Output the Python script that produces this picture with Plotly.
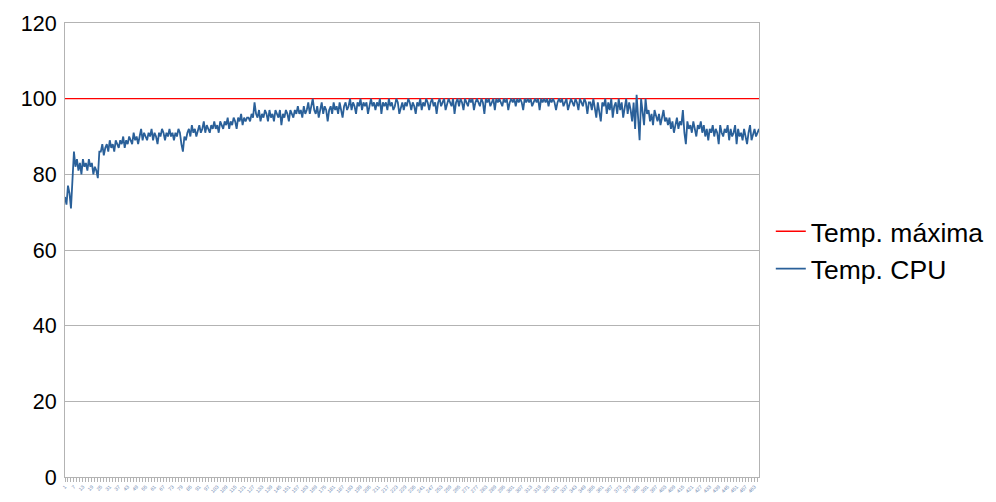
import plotly.graph_objects as go

cpu_temp = [
    74, 72, 77, 75, 71, 80, 86,
    82, 84, 81, 83, 80, 84, 82, 83, 81, 84, 82, 83, 80, 82, 81,
    79, 86,
    86, 88, 85, 87, 88, 86, 89, 87, 88, 86, 89, 88, 87, 89, 88, 90, 87, 89, 88, 90,
    89, 88, 91, 89, 90, 88, 90, 92, 89, 91, 90, 89, 91, 90, 92, 89, 91, 90, 88, 91,
    90, 92, 91, 89, 91, 90, 92, 90, 91, 89, 91, 90, 92, 91,
    88, 86, 90, 89,
    91, 92, 90, 93, 91, 92, 90, 92, 93, 91, 92, 94, 91, 93, 92, 91, 93, 92, 94, 92,
    93, 91, 94, 93, 92, 94, 93, 95, 92, 94, 93, 95, 94, 92, 95, 94, 96, 93, 95, 94,
    95, 95, 94, 96, 95, 99, 96, 95, 97, 94, 96, 95, 97, 96, 94, 97, 95, 96, 94, 97,
    96, 95, 97, 93, 96, 95, 97, 96, 94, 97, 96, 95, 97, 96, 98, 96,
    97, 95, 98, 96, 97, 99, 96, 98, 100, 97, 96, 98, 95, 97, 99, 96, 98, 97, 94, 97,
    98, 96, 99, 97, 98, 96, 99, 97, 95, 98, 99, 97, 98, 100, 97, 99, 98, 96, 99, 98,
    100, 97, 99, 98, 99, 96, 98, 100, 98, 99, 97, 99, 98, 100, 96, 99, 98, 99, 97, 100,
    98, 99, 97, 98, 100, 99, 96, 98, 99, 97, 99, 98, 100, 99,
    97, 99, 98, 96, 99, 98, 100, 97, 99, 98, 100, 99, 97, 99, 100, 98, 99, 96, 99, 100,
    98, 99, 100, 97, 99, 100, 99, 98, 100, 96, 99, 100, 98, 100, 99, 97, 100, 99, 98, 100,
    99, 100, 97, 99, 100, 99, 98, 100, 99, 96, 100, 99, 100, 98, 99, 100, 97, 100, 99, 100,
    99, 98, 100, 99, 100, 97, 99, 100, 99, 100, 98, 100, 99, 100, 99, 97, 100, 99, 100, 99,
    100, 98, 99, 100, 99, 100, 97, 100, 99, 100, 99, 100, 98, 100, 99, 100, 99, 97, 99, 100,
    99, 100, 98, 99, 100, 97, 99, 100, 99, 98, 100, 99, 97, 100, 99, 98, 100, 99, 96, 99,
    99, 97, 100, 98, 95, 99, 97, 94, 99, 98, 100, 96, 99, 97, 100, 95, 98, 99, 96, 100,
    97, 99, 95, 98, 100, 96, 99, 97, 94, 99,
    92, 101, 95, 89, 100, 97, 93, 100, 96,
    97, 94, 96, 93, 97, 95, 94, 96, 93, 95, 97, 94, 95,
    93, 95, 92, 94, 91, 93, 95, 92, 94, 93, 97, 91, 88, 94, 92, 93, 91, 94, 92, 90,
    93, 92, 94,
    91, 93, 90, 92, 89, 92, 91, 93, 90, 92, 91, 88, 93, 91, 90, 92, 91, 93, 89, 92,
    90, 91, 93, 88, 92, 90, 91, 89, 92, 90, 88, 91, 93, 89, 91, 92, 90, 91, 92,
]
max_temp_value = 100
samples = list(range(1, len(cpu_temp) + 1))
max_temp = [max_temp_value] * len(samples)
tick_samples = samples[::6]
tick_labels = [str(s) for s in tick_samples]

fig = go.Figure()
fig.add_trace(go.Scatter(x=samples, y=max_temp, mode="lines", name="Temp. máxima",
                         line=dict(color="#ff0000", width=1.3)))
fig.add_trace(go.Scatter(x=samples, y=cpu_temp, mode="lines", name="Temp. CPU",
                         line=dict(color="#2a6099", width=1.8)))

fig.update_layout(
    width=996, height=502,
    margin=dict(l=57, r=245, t=15, b=33, autoexpand=False),
    paper_bgcolor="white", plot_bgcolor="white",
    font=dict(family="Liberation Sans, Arial, sans-serif", color="black"),
    legend=dict(x=1.017, y=0.5, xanchor="left", yanchor="middle",
                font=dict(size=26.5, color="black"), tracegroupgap=0, itemwidth=30),
    showlegend=True,
)
fig.update_yaxes(range=[0, 120], dtick=20, showgrid=True, gridcolor="#b3b3b3", gridwidth=1,
                 showline=True, linecolor="#b3b3b3", mirror=True, automargin=False,
                 tickfont=dict(size=21.5, color="black"), zeroline=False,
                 ticks="outside", ticklen=3, tickcolor="rgba(0,0,0,0)")
fig.update_xaxes(range=[1, len(samples)], tickmode="array", tickvals=tick_samples,
                 ticktext=tick_labels, tickangle=-45, tickfont=dict(size=5, color="#6a86b0"),
                 ticks="outside", ticklen=4, tickcolor="#b3b3b3", automargin=False,
                 showline=True, linecolor="#b3b3b3", mirror=True, showgrid=False, zeroline=False,
                 minor=dict(ticks="outside", ticklen=4, tickcolor="#b3b3b3", dtick=2, tick0=1))

fig.write_html("out.html")
